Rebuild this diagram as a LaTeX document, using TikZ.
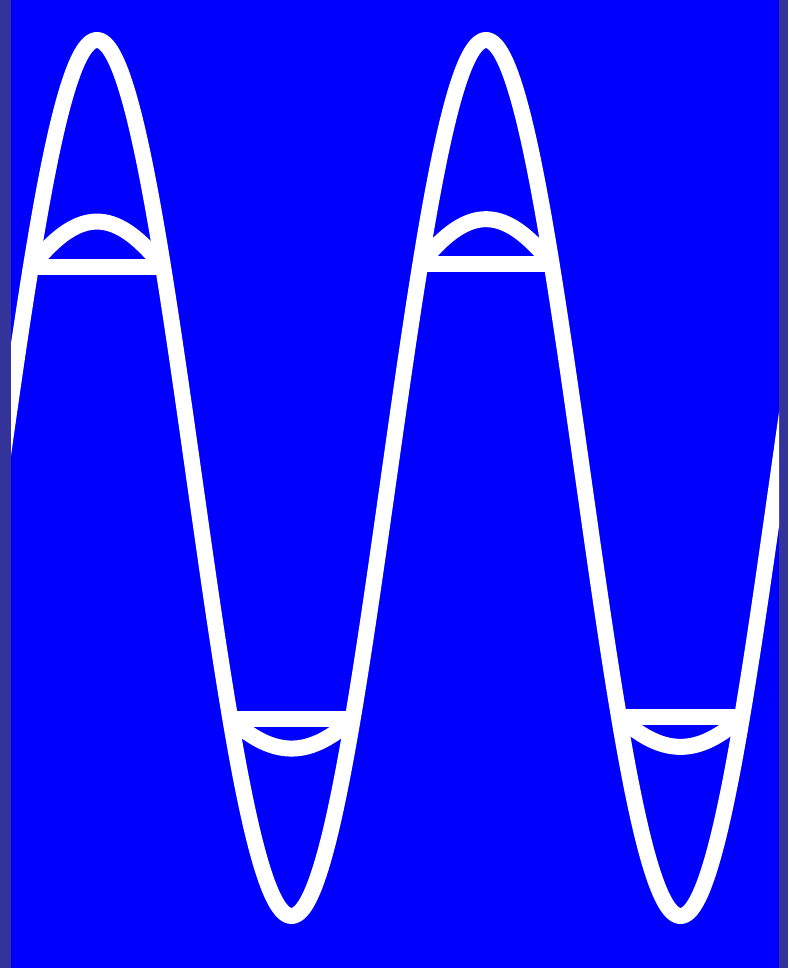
\documentclass[tikz,border=0pt]{standalone}
\definecolor{edgeband}{RGB}{51,51,153}
\definecolor{field}{RGB}{0,0,255}
\tikzset{wave/.style={white, line width=16pt, line join=round}}
\begin{document}
\begin{tikzpicture}[x=1pt,y=-1pt]
\useasboundingbox (0,0) rectangle (788,968);
\fill[edgeband] (0,0) rectangle (788,968);
\fill[field] (11,0) rectangle (779,968);
\begin{scope}
\clip (11,0) rectangle (779,968);
% big sine
\draw[wave] plot[domain=0:790, samples=400] (\x, {478-438*cos((\x-97)*0.92545)});
% clipped tops
\draw[wave] (31,267) -- (163,267);
\draw[wave] (420,264) -- (552,264);
% clipped bottoms
\draw[wave] (230,719) -- (352,719);
\draw[wave] (619,717) -- (742,717);
% humps (top)
\draw[wave] plot[domain=31:163, samples=80] (\x, {267+0.2*((478-438*cos((\x-97)*0.92545))-267)});
\draw[wave] plot[domain=420:552, samples=80] (\x, {264+0.2*((478-438*cos((\x-97)*0.92545))-264)});
% humps (bottom)
\draw[wave] plot[domain=230:352, samples=80] (\x, {719+0.15*((478-438*cos((\x-97)*0.92545))-719)});
\draw[wave] plot[domain=619:742, samples=80] (\x, {717+0.15*((478-438*cos((\x-97)*0.92545))-717)});
\end{scope}
\end{tikzpicture}
\end{document}
